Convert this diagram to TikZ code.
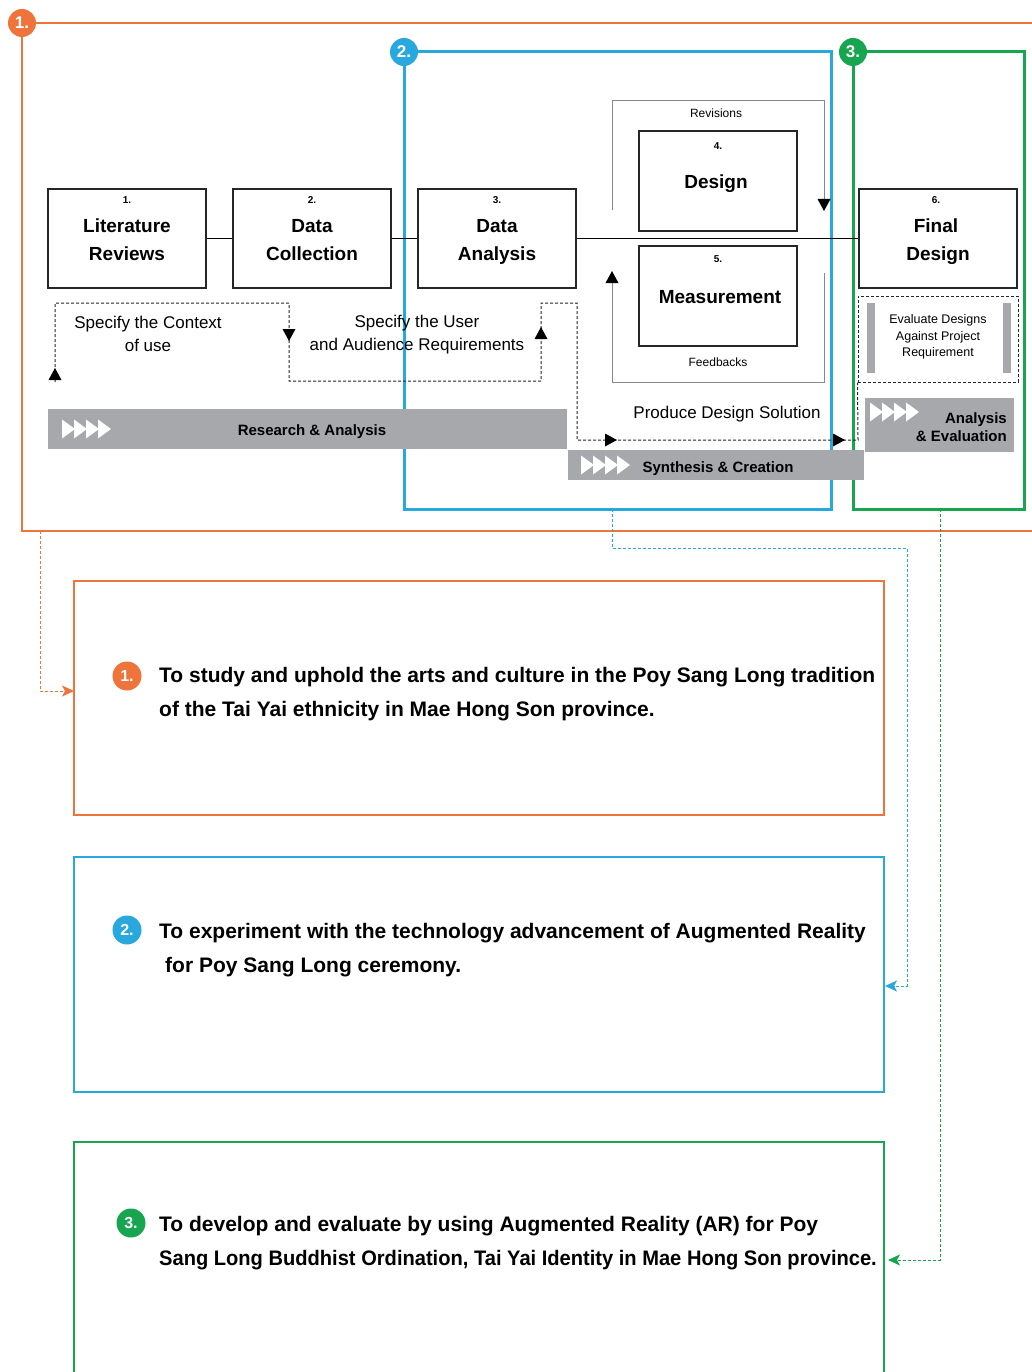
\documentclass[tikz,border=0pt]{standalone}
\usepackage{fontspec}
\usepackage{graphicx}
\setmainfont{Liberation Sans}
\usetikzlibrary{arrows.meta}
\definecolor{corange}{RGB}{238,116,60}
\definecolor{cblue}{RGB}{41,168,222}
\definecolor{cgreen}{RGB}{24,165,80}
\definecolor{cbar}{RGB}{166,168,171}
\definecolor{crev}{RGB}{135,135,135}
\begin{document}
\begin{tikzpicture}[x=1pt,y=-1pt,
  stepbox/.style={draw=black!85, line width=2.2pt, minimum width=158pt, minimum height=99pt, inner sep=0pt},
  boxnum/.style={font=\bfseries\fontsize{10}{12}\selectfont, anchor=base, inner sep=0pt},
  boxtitle/.style={font=\bfseries\fontsize{19}{22}\selectfont, anchor=base, inner sep=0pt},
  plaintxt/.style={font=\fontsize{17}{23}\selectfont, align=center, inner sep=0pt},
  smalltxt/.style={font=\fontsize{12}{16.5}\selectfont, align=center, inner sep=0pt},
  bartxt/.style={font=\bfseries\fontsize{15}{18}\selectfont, inner sep=0pt},
  barfill/.style={fill=cbar, draw=none, inner sep=0pt},
  badge/.style={circle, minimum size=28pt, inner sep=0pt, text=white, font=\bfseries\fontsize{17}{17}\selectfont},
  objbadge/.style={circle, minimum size=29pt, inner sep=0pt, text=white, font=\bfseries\fontsize{16}{16}\selectfont},
  objbox/.style={draw, line width=1.6pt, minimum width=810pt, inner sep=0pt},
  objtxt/.style={font=\bfseries\fontsize{21}{24}\selectfont, anchor=base west, inner sep=0pt},
  dsh/.style={draw=black!85, line width=1pt, dash pattern=on 3pt off 2pt},
  revline/.style={draw=crev, line width=1pt},
  lowdash/.style={line width=1pt, dash pattern=on 3pt off 2pt, -{Stealth[length=12pt,width=11pt,inset=3pt]}},
  chev/.pic={\fill[white] (0,-9.5) -- (13,0) -- (0,9.5) -- cycle;}
]
\useasboundingbox (0,0) rectangle (1032,1372);
\clip (0,0) rectangle (1032,1372);
\fill[white] (0,0) rectangle (1032,1372);

% ---------- phase frames ----------
\draw[corange, line width=2.6pt] (1032,23) -- (22,23) -- (22,531) -- (1032,531);
\draw[cblue, line width=3pt] (404,52) rectangle (831,509);
\draw[cgreen, line width=3pt] (853,52) rectangle (1024,509);

% ---------- bars ----------
\node[barfill, minimum width=519pt, minimum height=40pt] (rbar) at (307.5,429) {};
\node[barfill, minimum width=296pt, minimum height=30pt] (sbar) at (716,465) {};
\node[barfill, minimum width=149pt, minimum height=54pt] (abar) at (939.5,424.5) {};
\foreach \x in {62,74,86,98} \pic at (\x,429) {chev};
\foreach \x in {581,593,605,617} \pic at (\x,465) {chev};
\foreach \x in {870,882,894,906} \pic at (\x,412) {chev};
\node[bartxt, anchor=base] at (312,435) {Research \& Analysis};
\node[bartxt, anchor=base] at (718,472.5) {Synthesis \& Creation};
\node[bartxt, anchor=base east] at (1007,423) {Analysis};
\node[bartxt, anchor=base east] at (1007,441) {\& Evaluation};

% ---------- step boxes ----------
\node[stepbox] (b1) at (127,238.5) {};
\node[stepbox] (b2) at (312,238.5) {};
\node[stepbox] (b3) at (497,238.5) {};
\node[stepbox] (b6) at (938,238.5) {};
\node[stepbox, minimum height=100pt] (b4) at (718,181) {};
\node[stepbox, minimum height=100pt] (b5) at (718,296) {};

\node[boxnum] at (127,204) {1.};
\node[boxtitle] at (127,233) {Literature};
\node[boxtitle] at (127,261) {Reviews};
\node[boxnum] at (312,204) {2.};
\node[boxtitle] at (312,233) {Data};
\node[boxtitle] at (312,261) {Collection};
\node[boxnum] at (497,204) {3.};
\node[boxtitle] at (497,233) {Data};
\node[boxtitle] at (497,261) {Analysis};
\node[boxnum] at (718,150) {4.};
\node[boxtitle] at (716,189) {Design};
\node[boxnum] at (718,262) {5.};
\node[boxtitle] at (720,303) {Measurement};
\node[boxnum] at (936,204) {6.};
\node[boxtitle] at (936,233) {Final};
\node[boxtitle] at (938,261) {Design};

\draw[line width=1pt] (b1.east) -- (b2.west);
\draw[line width=1pt] (b2.east) -- (b3.west);
\draw[line width=1pt] (b3.east) -- (b6.west);

% ---------- revisions / feedbacks ----------
\draw[revline] (612,210) -- (612,101) -- (824,101) -- (824,200);
\fill (824,211) -- (830.5,199) -- (817.5,199) -- cycle;
\draw[revline] (824,273) -- (824,382) -- (612,382) -- (612,282);
\fill (612,271) -- (618.5,283) -- (605.5,283) -- cycle;
\node[smalltxt, anchor=base] at (716,118) {Revisions};
\node[smalltxt, anchor=base] at (718,366) {Feedbacks};

% ---------- evaluation box ----------
\node[dsh, minimum width=160pt, minimum height=86pt, inner sep=0pt] (evalbox) at (938,339) {};
\fill[cbar] (867,303) rectangle (875,373);
\fill[cbar] (1003,303) rectangle (1011,373);
\node[smalltxt, font=\fontsize{12.5}{16.5}\selectfont] at (938,337) {Evaluate Designs\\Against Project\\Requirement};

% ---------- dashed process line ----------
\draw[dsh] (55,382) -- (55,303) -- (289,303) -- (289,381) -- (541,381) -- (541,303) -- (577,303) -- (577,440) -- (858,440) -- (evalbox.south west);
\fill (55,368) -- (61.5,380) -- (48.5,380) -- cycle;
\fill (289,341) -- (295.5,329) -- (282.5,329) -- cycle;
\fill (541,327) -- (547.5,339) -- (534.5,339) -- cycle;
\fill (617,440) -- (605,433.5) -- (605,446.5) -- cycle;
\fill (845,440) -- (833,433.5) -- (833,446.5) -- cycle;

\node[plaintxt] at (148,333.5) {Specify the Context\\of use};
\node[plaintxt] at (417,335) {Specify the User\\and Audience Requirements};
\node[plaintxt, anchor=base] at (727,418) {Produce Design Solution};

% ---------- badges ----------
\node[badge, fill=corange] (bd1) at (22,23) {1.};
\node[badge, fill=cblue] (bd2) at (404,52) {2.};
\node[badge, fill=cgreen] (bd3) at (853,52) {3.};

% ---------- objectives ----------
\node[objbox, draw=corange, minimum height=234pt] (objA) at (479,698) {};
\node[objbox, draw=cblue, minimum height=235pt] (objB) at (479,974.5) {};
\node[objbox, draw=cgreen, minimum height=270pt] (objC) at (479,1277) {};

\node[objbadge, fill=corange] (oa) at (127,676) {1.};
\node[objtxt] at (159,682) {To study and uphold the arts and culture in the Poy Sang Long tradition};
\node[objtxt] at (159,716) {of the Tai Yai ethnicity in Mae Hong Son province.};

\node[objbadge, fill=cblue] (ob) at (127,930) {2.};
\node[objtxt] at (159,938) {To experiment with the technology advancement of Augmented Reality};
\node[objtxt] at (165,972) {for Poy Sang Long ceremony.};

\node[objbadge, fill=cgreen] (oc) at (131,1223) {3.};
\node[objtxt] at (159,1231) {To develop and evaluate by using Augmented Reality (AR) for Poy};
\node[objtxt] at (159,1265) {\scalebox{0.957}[1]{Sang Long Buddhist Ordination, Tai Yai Identity in Mae Hong Son province.}};

% ---------- lower connectors ----------
\coordinate (f1) at (40,531);
\coordinate (f2) at (612,509);
\coordinate (f3) at (940,509);
\coordinate (inA) at (74,691);
\coordinate (inB) at (885,986);
\coordinate (inC) at (888,1260);
\draw[lowdash, corange] (f1) -- (40,691) -- (inA);
\draw[lowdash, cblue] (f2) -- (612,548) -- (907,548) -- (907,986) -- (inB);
\draw[lowdash, cgreen] (f3) -- (940,1260) -- (inC);
\end{tikzpicture}
\end{document}
